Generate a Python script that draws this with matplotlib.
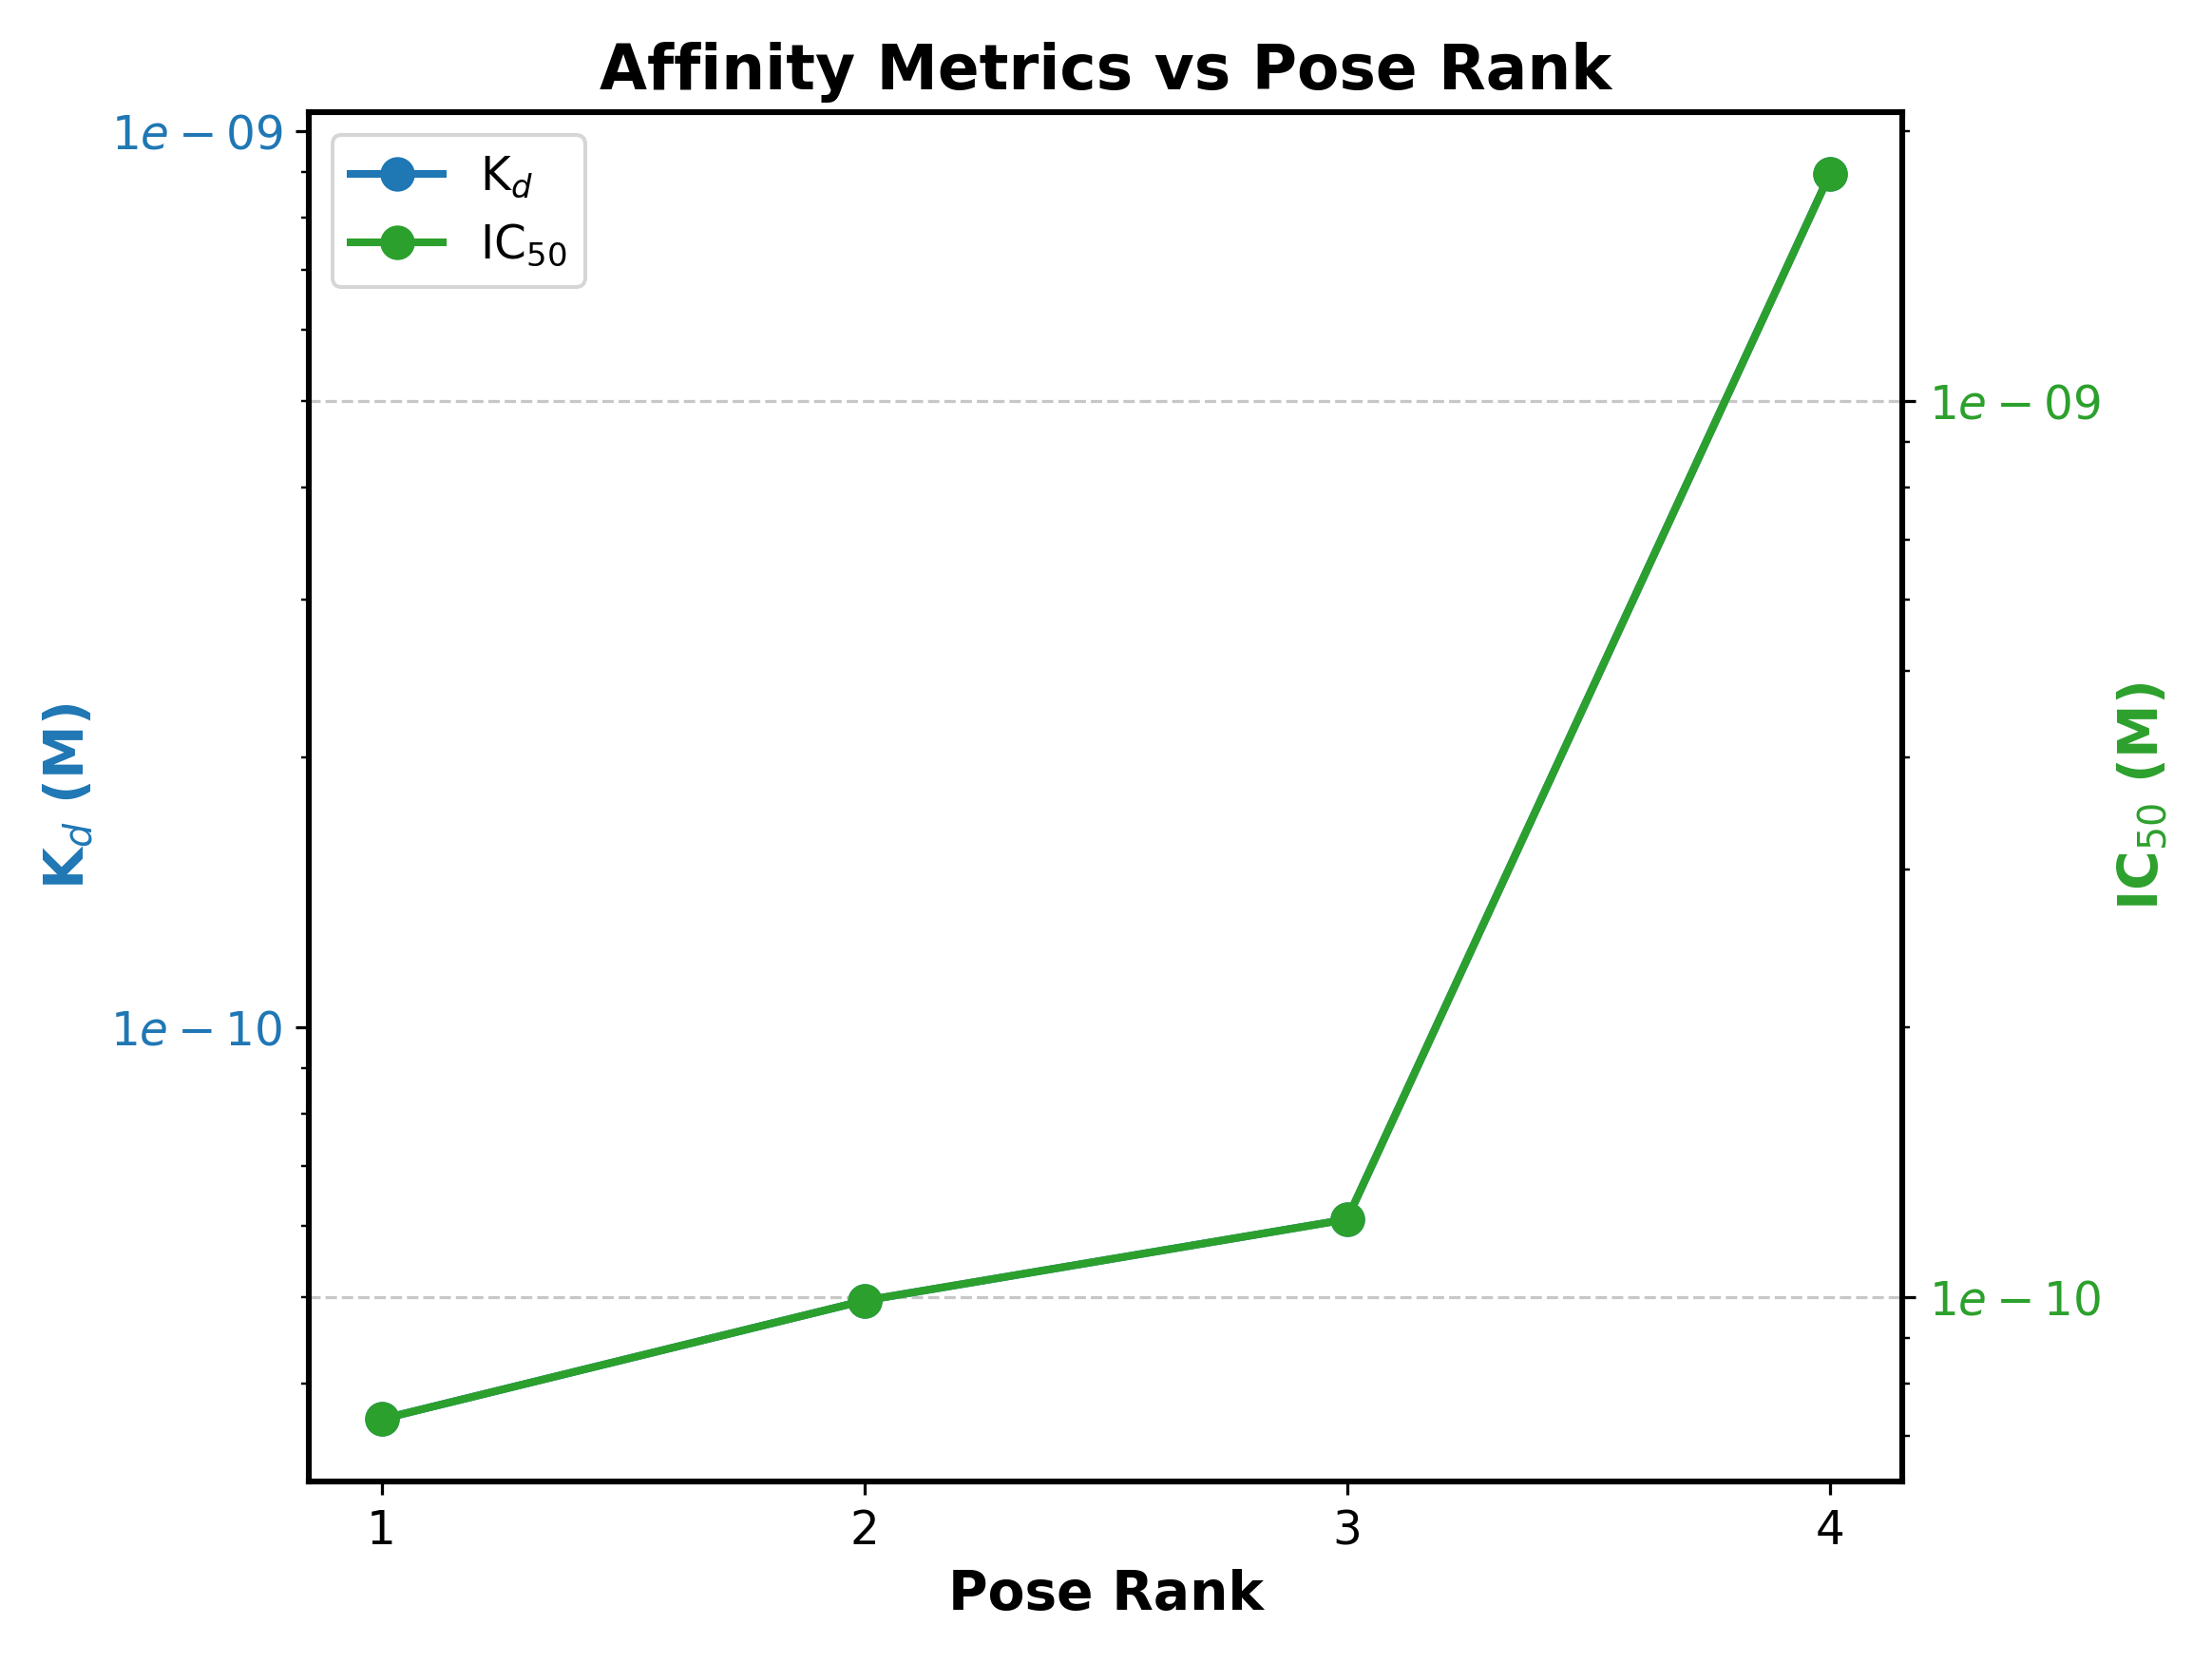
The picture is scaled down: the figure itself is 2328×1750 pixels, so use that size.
import matplotlib.pyplot as plt
from matplotlib.ticker import FuncFormatter, NullFormatter

pose_rank = [1, 2, 3, 4]
kd = [3.65e-11, 4.95e-11, 6.1e-11, 8.95e-10]
ic50 = [7.3e-11, 9.9e-11, 1.22e-10, 1.79e-9]

fig, ax1 = plt.subplots(figsize=(2328 / 291, 1750 / 291), dpi=291)
ax2 = ax1.twinx()

l1, = ax1.plot(pose_rank, kd, marker='o', color='#1f77b4', linewidth=2, markersize=8, label='K$_d$')
l2, = ax2.plot(pose_rank, ic50, marker='o', color='#2ca02c', linewidth=2, markersize=8, label='IC$_{50}$')
ax1.set_yscale('log')
ax2.set_yscale('log')

fmt = FuncFormatter(lambda v, p: '$%s$' % ('%.0e' % v))
for ax, c in [(ax1, '#1f77b4'), (ax2, '#2ca02c')]:
    ax.yaxis.set_major_formatter(fmt)
    ax.yaxis.set_minor_formatter(NullFormatter())
    ax.tick_params(axis='y', labelcolor=c, labelsize=12)
    for s in ax.spines.values():
        s.set_linewidth(1.5)

ax1.set_xticks(pose_rank)
ax1.tick_params(axis='x', labelsize=12)
ax1.set_xlabel('Pose Rank', fontsize=14, fontweight='bold')
ax1.set_ylabel('K$_d$ (M)', fontsize=14, fontweight='bold', color='#1f77b4')
ax2.set_ylabel('IC$_{50}$ (M)', fontsize=14, fontweight='bold', color='#2ca02c')
ax1.set_title('Affinity Metrics vs Pose Rank', fontsize=16, fontweight='bold')
ax2.grid(axis='y', linestyle='--', alpha=0.7)
ax1.legend(handles=[l1, l2], loc='upper left', fontsize=12)

fig.tight_layout()
fig.savefig('out.png')
